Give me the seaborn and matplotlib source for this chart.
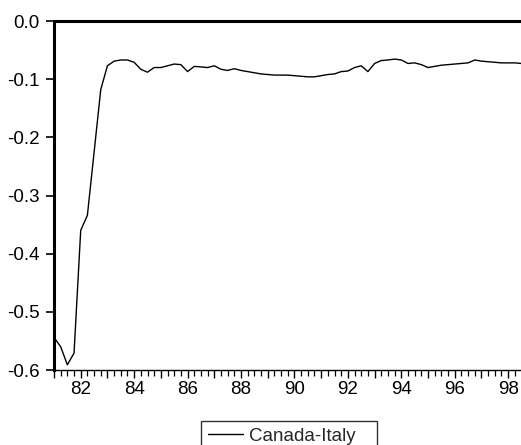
import numpy as np
import pandas as pd
import matplotlib
matplotlib.use("Agg")
import matplotlib.pyplot as plt
import seaborn as sns
from matplotlib.ticker import MultipleLocator, FuncFormatter

# ---- data (quarterly, starting 1981Q1) ----
start_quarter = "1981Q1"
series_name = "Canada-Italy"
values = [
    -0.544, -0.560, -0.591, -0.571, -0.360, -0.334, -0.226, -0.118,
    -0.077, -0.069, -0.067, -0.067, -0.071, -0.083, -0.088, -0.080,
    -0.080, -0.077, -0.074, -0.075, -0.087, -0.078, -0.079, -0.080,
    -0.077, -0.083, -0.085, -0.082, -0.085, -0.087, -0.089, -0.091,
    -0.092, -0.093, -0.093, -0.093, -0.094, -0.095, -0.096, -0.096,
    -0.094, -0.092, -0.091, -0.087, -0.086, -0.080, -0.077, -0.087,
    -0.073, -0.068, -0.067, -0.0655, -0.067, -0.073, -0.072, -0.075,
    -0.080, -0.078, -0.076, -0.075, -0.074, -0.073, -0.072, -0.067,
    -0.069, -0.070, -0.071, -0.072, -0.072, -0.072, -0.073,
]
y_ticks = [0.0, -0.1, -0.2, -0.3, -0.4, -0.5, -0.6]
x_label_years = [82, 84, 86, 88, 90, 92, 94, 96, 98]

periods = pd.period_range(start_quarter, periods=len(values), freq="Q")
t = (periods.year - 1900) + (periods.quarter - 1) / 4.0
df = pd.DataFrame({"t": t, "value": values, "series": series_name})

sns.set_theme(style="white")
plt.rcParams["font.family"] = ["Liberation Sans", "DejaVu Sans"]

FS = 13.5
fig = plt.figure(figsize=(5.21, 4.45), dpi=100)
ax = fig.add_axes([54 / 521, 1 - 370 / 445, 1 - 54 / 521 + 0.002, (370 - 21) / 445])

sns.lineplot(data=df, x="t", y="value", color="black", linewidth=1.0, ax=ax,
             label=series_name, legend=False)

ax.set_xlim(81.0, 98.52)
ax.set_ylim(-0.6, 0.0)
ax.set_xlabel("")
ax.set_ylabel("")

ax.set_yticks(y_ticks)
ax.yaxis.set_major_formatter(FuncFormatter(lambda v, p: f"{v:.1f}".replace("−", "-")))
ax.tick_params(axis="y", direction="out", length=5.5, width=1.2, labelsize=FS,
               color="black", labelcolor="black", pad=5.0, left=True)

ax.xaxis.set_major_locator(MultipleLocator(1))
ax.xaxis.set_minor_locator(MultipleLocator(0.25))
ax.xaxis.set_major_formatter(FuncFormatter(
    lambda v, p: f"{int(round(v))}" if int(round(v)) in x_label_years else ""))
ax.tick_params(axis="x", which="major", direction="out", length=6, width=1.0,
               labelsize=FS, color="black", labelcolor="black", pad=2, bottom=True)
ax.tick_params(axis="x", which="minor", direction="out", length=4.3, width=0.9,
               color="black", bottom=True)

for side in ["top", "left"]:
    ax.spines[side].set_visible(True)
    ax.spines[side].set_color("black")
    ax.spines[side].set_linewidth(2.2)
ax.spines["bottom"].set_visible(True)
ax.spines["bottom"].set_color("black")
ax.spines["bottom"].set_linewidth(1.0)
ax.spines["right"].set_visible(False)
ax.grid(False)

handles, labels = ax.get_legend_handles_labels()
leg = fig.legend(handles, labels, loc="upper left",
                 bbox_to_anchor=(200.7 / 521, -0.2, 176 / 521, 0.2 + (445 - 420.7) / 445),
                 mode="expand", frameon=True, fancybox=False, edgecolor="black",
                 fontsize=FS, handlelength=1.87, handletextpad=0.32, borderpad=0.37,
                 borderaxespad=0.0)
leg.get_frame().set_linewidth(1.0)

fig.savefig("out.png", dpi=100)
